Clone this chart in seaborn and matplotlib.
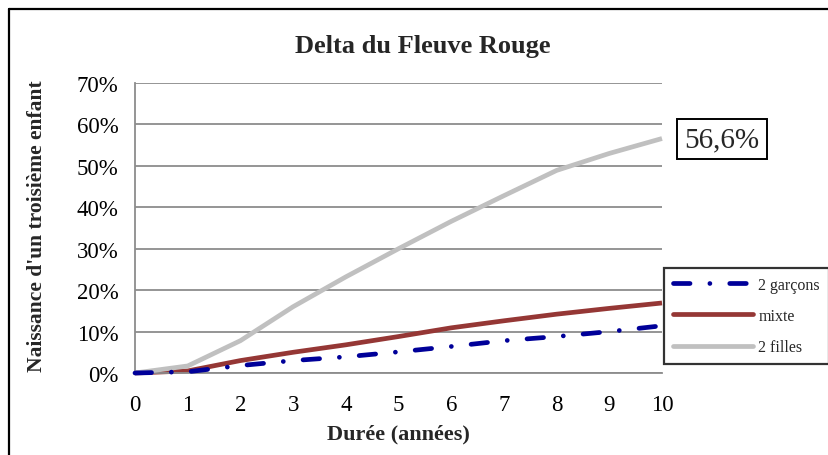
import matplotlib
matplotlib.use("Agg")
import matplotlib.pyplot as plt
from matplotlib.lines import Line2D
import seaborn as sns
import pandas as pd

years = [0, 1, 2, 3, 4, 5, 6, 7, 8, 9, 10]
garcons = [0.0, 0.3, 1.8, 3.0, 3.9, 5.1, 6.4, 7.8, 8.8, 10.0, 11.4]
mixte = [0.0, 0.5, 3.0, 5.0, 6.8, 8.8, 10.9, 12.6, 14.2, 15.6, 16.9]
filles = [0.0, 1.7, 7.8, 16.0, 23.2, 30.0, 36.6, 42.8, 48.9, 53.0, 56.6]
series_names = ["2 garçons", "mixte", "2 filles"]
y_ticks = [0, 10, 20, 30, 40, 50, 60, 70]
title = "Delta du Fleuve Rouge"
xlabel = "Durée (années)"
ylabel = "Naissance d'un troisième enfant"
annotation = "56,6%"

sns.set_theme(style="white")
plt.rcParams['font.family'] = ['Liberation Serif', 'DejaVu Serif']

df = pd.DataFrame({
    "year": years * 3,
    "value": garcons + mixte + filles,
    "series": [series_names[0]] * len(years) + [series_names[1]] * len(years) + [series_names[2]] * len(years),
})

X0, X1, Y0, Y1 = 135, 662, 374, 84
fig = plt.figure(figsize=(8.29, 4.56), dpi=100)
ax = fig.add_axes([X0 / 829, 1 - Y0 / 456, (X1 - X0) / 829, (Y0 - Y1) / 456])

colors = {"2 garçons": "#000099", "mixte": "#953735", "2 filles": "#C0C0C0"}
LW = 3.4
DASH = (3.5, 4.2, 0.01, 4.2)
sns.lineplot(data=df, x="year", y="value", hue="series", palette=colors, ax=ax,
             legend=False, linewidth=LW, sort=False)
lines = ax.get_lines()
for ln in lines:
    ln.set_solid_capstyle("butt")
    ln.set_clip_on(False)
blue_line = lines[0]
blue_line.set_dashes(DASH)
blue_line.set_dash_capstyle("round")
blue_line.set_zorder(3)
lines[1].set_zorder(2.5)
lines[2].set_zorder(2.8)

ax.set_xlim(0, 10)
ax.set_ylim(0, 70)
ax.set_xticks(years)
ax.set_yticks(y_ticks)
ax.set_yticklabels([f"{t}%" for t in y_ticks])
ax.tick_params(axis="both", labelsize=16.5, colors="#8c8c8c", labelcolor="black",
               length=6, width=1.3, direction="out")
ax.tick_params(axis="x", pad=9)
ax.tick_params(axis="y", pad=6)
ax.grid(axis="y", color="#8c8c8c", linewidth=1.3)
ax.set_axisbelow(True)
for s in ["top", "right"]:
    ax.spines[s].set_visible(False)
for s in ["left", "bottom"]:
    ax.spines[s].set_color("#8c8c8c")
    ax.spines[s].set_linewidth(1.3)

ax.set_xlabel(xlabel, fontsize=16, fontweight="bold")
ax.set_ylabel(ylabel, fontsize=15.5, fontweight="bold")
ax.xaxis.set_label_coords(0.5, -(424 - Y0) / (Y0 - Y1))
ax.yaxis.set_label_coords((47 - X0) / (X1 - X0), (Y0 - 226) / (Y0 - Y1))

fig.text(423 / 829, 1 - 46 / 456, title, ha="center", va="center",
         fontsize=19, fontweight="bold")

ax.text((722 - X0) / (X1 - X0), (Y0 - 140) / (Y0 - Y1), annotation, transform=ax.transAxes,
        ha="center", va="center", fontsize=21,
        bbox=dict(boxstyle="square,pad=0.24", fc="white", ec="black", lw=1.4))

handles = [Line2D([], [], color=colors[n], linewidth=LW) for n in series_names]
handles[0].set_dashes(DASH)
handles[0].set_dash_capstyle("round")
for h in handles[1:]:
    h.set_solid_capstyle("round")
leg = fig.legend(handles, series_names, loc="upper left",
                 bbox_to_anchor=(664 / 829, 1 - 269 / 456), bbox_transform=fig.transFigure,
                 borderaxespad=0, fontsize=11.5, handlelength=5.0, frameon=True,
                 fancybox=False, labelspacing=0.95, handletextpad=0.35, borderpad=0.55)
leg.get_frame().set_edgecolor("black")
leg.get_frame().set_linewidth(1.6)
leg.set_zorder(5)

# outer border (top and left)
fig.add_artist(Line2D([9 / 829, 9 / 829], [0, 1 - 10 / 456], color="black", lw=1.6,
                      transform=fig.transFigure))
fig.add_artist(Line2D([9 / 829, 1], [1 - 10 / 456, 1 - 10 / 456], color="black", lw=1.6,
                      transform=fig.transFigure))

fig.savefig("out.png", dpi=100)
